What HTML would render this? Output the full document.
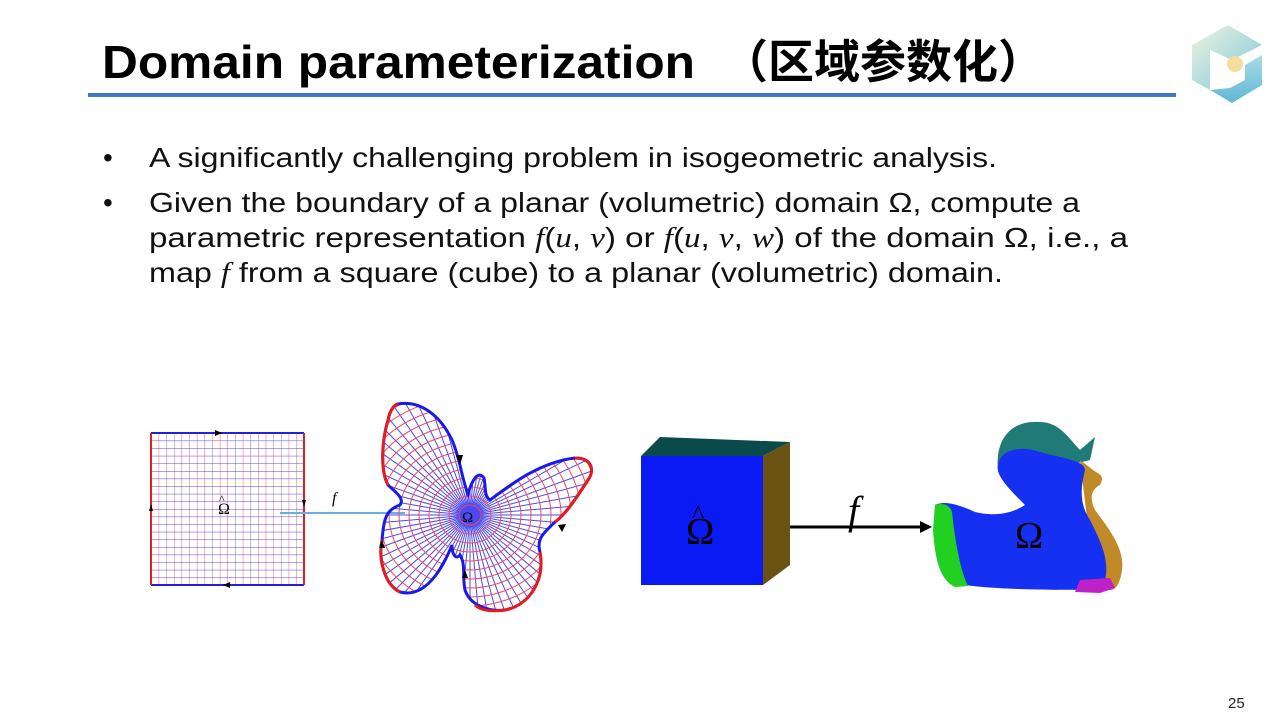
<!DOCTYPE html>
<html><head><meta charset="utf-8"><style>
html,body{margin:0;padding:0;background:#fff;}
svg{display:block}
</style></head><body>
<svg width="1280" height="719" viewBox="0 0 1280 719" xmlns="http://www.w3.org/2000/svg">
<defs>
<pattern id="grid" x="151" y="433" width="7.65" height="7.6" patternUnits="userSpaceOnUse">
<line x1="0" y1="0" x2="0" y2="7.6" stroke="#f06070" stroke-width="1"/>
<line x1="0" y1="0" x2="7.65" y2="0" stroke="#4a4af0" stroke-width="1"/>
</pattern>
<path id="bfpath" d="M398,404 C420,400 440,415 452,440 C460,458 462,480 468,494 C472,480 478,470 484,478 C486,488 484,496 490,500 C510,485 540,462 575,458 C592,458 595,470 588,480 C575,500 565,515 555,522 C545,532 536,538 540,552 C545,580 530,605 505,610 C488,612 470,605 465,590 C462,575 466,565 460,555 C456,560 452,555 452,545 C448,555 430,600 400,592 C385,585 378,560 382,540 C384,520 385,510 400,505 C405,498 395,492 388,485 C380,470 382,440 388,420 C390,410 394,405 398,404 Z"/>
<clipPath id="bf"><use href="#bfpath"/></clipPath>
<linearGradient id="lg1" x1="0" y1="0" x2="1" y2="1"><stop offset="0" stop-color="#eef3df"/><stop offset="1" stop-color="#7cc7dc"/></linearGradient>
<linearGradient id="lg2" x1="0" y1="0" x2="0" y2="1"><stop offset="0" stop-color="#a9dbe8"/><stop offset="1" stop-color="#5fb8d3"/></linearGradient>
</defs>

<text x="102" y="78" font-family="Liberation Sans, sans-serif" font-weight="bold" font-size="46" fill="#000" textLength="593" lengthAdjust="spacingAndGlyphs">Domain parameterization</text>
<text x="722" y="78" font-family="'Liberation Sans','Noto Sans CJK SC',sans-serif" font-weight="bold" font-size="46" fill="#000" textLength="322" lengthAdjust="spacingAndGlyphs">（区域参数化）</text>
<rect x="88" y="93" width="1088" height="4" fill="#3b78c6"/>

<g>
<polygon points="1192,45 1228,25 1262,45 1232,60 1210,50 1210,90 1192,80" fill="url(#lg1)"/>
<polygon points="1210,90 1232,103 1262,85 1262,55 1245,65 1245,80 1230,88" fill="url(#lg2)"/>
<circle cx="1235" cy="64" r="8" fill="#f6dd9c"/>
</g>

<g font-family="Liberation Sans, sans-serif" font-size="28" fill="#111">
<text x="103" y="167">•</text>
<text x="149" y="167" textLength="848" lengthAdjust="spacingAndGlyphs">A significantly challenging problem in isogeometric analysis.</text>
<text x="103" y="212">•</text>
<text x="149" y="212" textLength="931" lengthAdjust="spacingAndGlyphs">Given the boundary of a planar (volumetric) domain Ω, compute a</text>
<text x="149" y="247" textLength="979" lengthAdjust="spacingAndGlyphs">parametric representation <tspan font-family="Liberation Serif,serif" font-style="italic">f</tspan>(<tspan font-family="Liberation Serif,serif" font-style="italic">u</tspan>, <tspan font-family="Liberation Serif,serif" font-style="italic">v</tspan>) or <tspan font-family="Liberation Serif,serif" font-style="italic">f</tspan>(<tspan font-family="Liberation Serif,serif" font-style="italic">u</tspan>, <tspan font-family="Liberation Serif,serif" font-style="italic">v</tspan>, <tspan font-family="Liberation Serif,serif" font-style="italic">w</tspan>) of the domain Ω, i.e., a</text>
<text x="149" y="282" textLength="854" lengthAdjust="spacingAndGlyphs">map <tspan font-family="Liberation Serif,serif" font-style="italic">f</tspan>  from a square (cube) to a planar (volumetric) domain.</text>
</g>

<rect x="151" y="433" width="153" height="152" fill="url(#grid)"/>
<line x1="151" y1="433" x2="304" y2="433" stroke="#2020e0" stroke-width="2"/>
<line x1="151" y1="585" x2="304" y2="585" stroke="#2020e0" stroke-width="2"/>
<line x1="151" y1="433" x2="151" y2="585" stroke="#e02020" stroke-width="2"/>
<line x1="304" y1="433" x2="304" y2="585" stroke="#e02020" stroke-width="2"/>
<polygon points="215,430 222,433 215,436" fill="#000"/>
<polygon points="302,500 304,507 306,500" fill="#000"/>
<polygon points="230,582 223,585 230,588" fill="#000"/>
<polygon points="149,511 151,504 153,511" fill="#000"/>
<text x="218" y="514" font-family="Liberation Serif,serif" font-size="16">Ω</text>
<text x="219" y="503" font-family="Liberation Serif,serif" font-size="12">^</text>
<line x1="280" y1="513" x2="405" y2="513" stroke="#6aaee0" stroke-width="2"/>
<text x="332" y="503" font-family="Liberation Serif,serif" font-style="italic" font-size="16">f</text>

<g clip-path="url(#bf)">
<path fill="none" stroke="#4a4af0" stroke-width="1" d="M670,515L270,515M667,550L273,480M658,583L282,447M643,615L297,415M623,644L317,386M599,668L341,362M570,688L370,342M538,703L402,327M505,712L435,318M470,715L470,315M435,712L505,318M402,703L538,327M370,688L570,342M341,668L599,362M317,644L623,386M297,615L643,415M282,583L658,447M273,550L667,480
M669,532L271,498M663,567L277,463M651,600L289,430M634,630L306,400M611,656L329,374M585,679L355,351M555,696L385,334M522,708L418,322M487,714L453,316M453,714L487,316M418,708L522,322M385,696L555,334M355,679L585,351M329,656L611,374M306,630L634,400M289,600L651,430M277,567L663,463M271,532L669,498"/>
<g fill="none" stroke="#f04a5a" stroke-width="1">
<ellipse cx="470" cy="515" rx="11" ry="10"/><ellipse cx="470" cy="515" rx="21" ry="19"/><ellipse cx="470" cy="515" rx="31" ry="28"/><ellipse cx="470" cy="515" rx="41" ry="37"/><ellipse cx="470" cy="515" rx="51" ry="46"/><ellipse cx="470" cy="515" rx="61" ry="55"/><ellipse cx="470" cy="515" rx="71" ry="64"/><ellipse cx="470" cy="515" rx="81" ry="73"/><ellipse cx="470" cy="515" rx="91" ry="82"/><ellipse cx="470" cy="515" rx="101" ry="91"/><ellipse cx="470" cy="515" rx="111" ry="100"/><ellipse cx="470" cy="515" rx="121" ry="109"/><ellipse cx="470" cy="515" rx="131" ry="118"/><ellipse cx="470" cy="515" rx="141" ry="127"/>
</g>
</g>
<use href="#bfpath" fill="none" stroke="#1a1ae8" stroke-width="3"/>
<path d="M388,485 C380,470 382,440 388,420 C390,410 394,405 398,404" fill="none" stroke="#e81a1a" stroke-width="3"/>
<path d="M382,540 C378,560 385,585 400,592" fill="none" stroke="#e81a1a" stroke-width="3"/>
<path d="M575,458 C592,458 595,470 588,480 C575,500 565,515 555,522" fill="none" stroke="#e81a1a" stroke-width="3"/>
<path d="M540,552 C545,580 530,605 505,610 C490,612 480,610 475,605" fill="none" stroke="#e81a1a" stroke-width="3"/>
<polygon points="456,455 460,465 463,455" fill="#000"/>
<polygon points="558,525 562,532 566,524" fill="#000"/>
<polygon points="462,578 465,570 468,578" fill="#000"/>
<polygon points="379,548 382,540 385,548" fill="#000"/>
<text x="462" y="522" font-family="Liberation Serif,serif" font-size="15">Ω</text>

<polygon points="641,456 660,437 790,442 763,456" fill="#0b4a4a"/>
<polygon points="763,456 790,442 790,565 763,585" fill="#6a5212"/>
<rect x="641" y="456" width="122" height="129" fill="#0a1af5"/>
<text x="686" y="544" font-family="Liberation Serif,serif" font-size="38">Ω</text>
<text x="692" y="523" font-family="Liberation Serif,serif" font-size="26">^</text>
<line x1="790" y1="527" x2="922" y2="527" stroke="#000" stroke-width="3"/>
<polygon points="920,521 932,527 920,533" fill="#000"/>
<text x="848" y="524" font-family="Liberation Serif,serif" font-style="italic" font-size="40">f</text>

<path d="M998,470 C995,440 1010,420 1040,422 C1060,422 1070,440 1080,450 L1095,437 L1090,460 L1070,465 Z" fill="#1f7a78"/>
<path d="M1080,460 L1093,470 C1100,475 1105,475 1100,485 C1090,490 1090,500 1095,510 C1110,530 1125,550 1122,570 C1120,585 1115,590 1110,590 L1095,585 Z" fill="#c08a28"/>
<path d="M935,505 C945,500 960,505 975,512 C990,516 1010,515 1025,505 C1010,490 995,475 998,465 C1000,450 1020,445 1040,452 C1060,458 1085,460 1085,470 C1080,490 1080,505 1090,520 C1100,540 1110,560 1105,580 L1095,590 C1060,590 1000,590 965,585 Z" fill="#1530f0"/>
<path d="M1080,580 L1110,578 L1115,588 L1100,593 L1075,592 Z" fill="#c020c8"/>
<path d="M935,505 C945,502 950,506 952,512 C955,540 960,570 968,586 L955,587 C940,580 935,560 933,530 Z" fill="#22d022"/>
<text x="1015" y="548" font-family="Liberation Serif,serif" font-size="38">Ω</text>

<text x="1228" y="708" font-family="Liberation Sans,sans-serif" font-size="15" fill="#222">25</text>
</svg>
</body></html>
